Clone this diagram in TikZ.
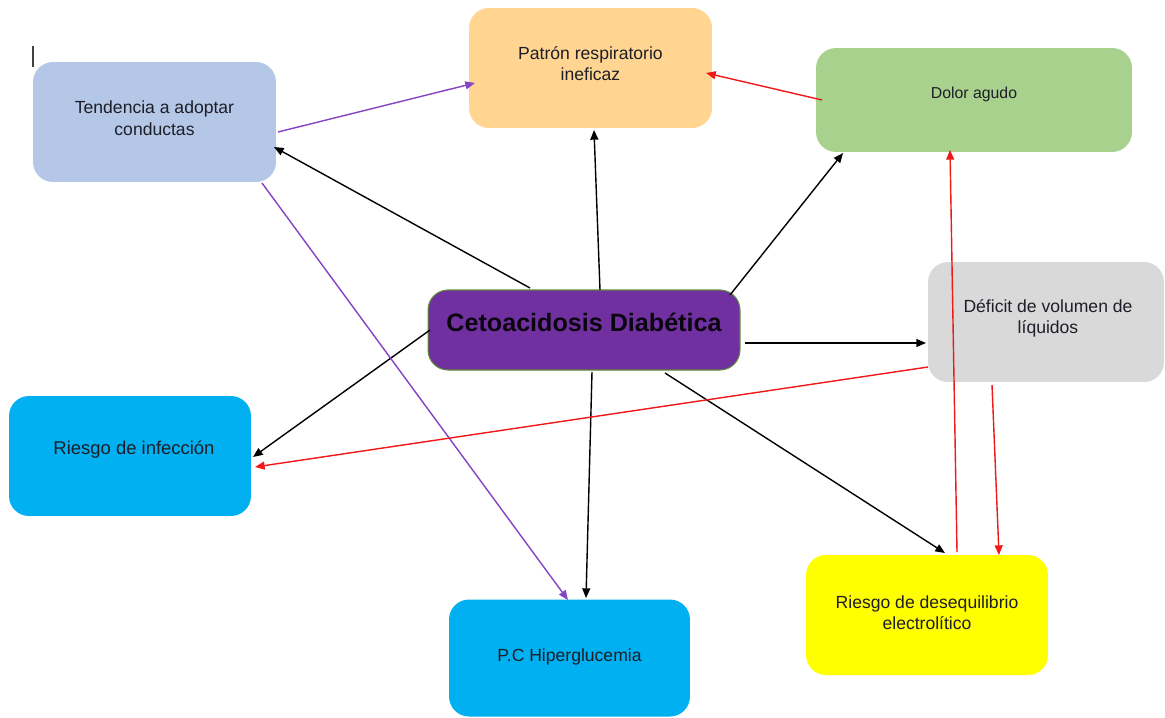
\documentclass[tikz,border=0pt]{standalone}
\usepackage{fontspec}
\setmainfont{Liberation Sans}
\usetikzlibrary{arrows.meta,calc}
\definecolor{tendc}{HTML}{B4C7E7}
\definecolor{patc}{HTML}{FFD591}
\definecolor{dolc}{HTML}{A9D18E}
\definecolor{defc}{HTML}{D9D9D9}
\definecolor{cetoc}{HTML}{7030A0}
\definecolor{cetob}{HTML}{5E8C3A}
\definecolor{bluec}{HTML}{00B0F0}
\definecolor{desc}{HTML}{FFFF00}
\definecolor{txtc}{HTML}{1E1E28}
\definecolor{purc}{HTML}{8445C4}
\definecolor{redc}{HTML}{F01818}
\begin{document}
\begin{tikzpicture}[x=0.02cm,y=-0.02cm,
  box/.style={rectangle, rounded corners=0.4cm, inner sep=0pt, draw=none},
  lbl/.style={font=\fontsize{10}{12.2}\selectfont, text=txtc, align=center, inner sep=0pt},
  blk/.style={draw=black, line width=0.8pt, -{Triangle[length=5.5pt,width=4.5pt]}},
  pur/.style={blk, draw=purc},
  rdl/.style={blk, draw=redc}]
\useasboundingbox (0,0) rectangle (1165,717);
\fill[white] (0,0) rectangle (1165,717);
% text cursor mark
\draw[line width=1.1pt, draw=black!75] (33,46) -- (33,67);
% boxes
\node[box, fill=tendc, minimum width=4.86cm, minimum height=2.4cm] (tend) at (154.5,122) {};
\node[box, fill=patc, minimum width=4.86cm, minimum height=2.4cm] (pat) at (590.5,68) {};
\node[box, fill=dolc, minimum width=6.32cm, minimum height=2.08cm] (dol) at (974,100) {};
\node[box, fill=defc, minimum width=4.72cm, minimum height=2.4cm] (def) at (1046,322) {};
\node[box, fill=cetoc, draw=cetob, line width=0.6pt, minimum width=6.24cm, minimum height=1.6cm] (ceto) at (584,330) {};
\node[box, fill=bluec, minimum width=4.84cm, minimum height=2.4cm] (inf) at (130,456) {};
\node[box, fill=bluec, minimum width=4.82cm, minimum height=2.34cm] (hip) at (569.5,658) {};
\node[box, fill=desc, minimum width=4.84cm, minimum height=2.4cm] (des) at (927,615) {};
% labels
\node[lbl] (tendT) at ([shift={(0,-4)}]tend.center) {Tendencia a adoptar\\conductas};
\node[lbl] (patT) at ([shift={(0,-4.5)}]pat.center) {Patrón respiratorio\\ineficaz};
\node[lbl, font=\fontsize{9}{11}\selectfont] (dolT) at ([shift={(0,-6)}]dol.center) {Dolor agudo};
\node[lbl] (defT) at ([shift={(2,-3.5)}]def.center) {Déficit de volumen de\\líquidos};
\node[lbl, font=\bfseries\fontsize{14.3}{16}\selectfont, text=black!90!cetoc] (cetoT) at ([shift={(0,-8)}]ceto.center) {Cetoacidosis Diabética};
\node[lbl, font=\fontsize{10.5}{12.5}\selectfont] (infT) at ([shift={(4,-6)}]inf.center) {Riesgo de infección};
\node[lbl] (hipT) at ([shift={(0,-1)}]hip.center) {P.C Hiperglucemia};
\node[lbl] (desT) at ([shift={(0,-2.5)}]des.center) {Riesgo de desequilibrio\\electrolítico};
% black connectors
\draw[blk] ([shift={(-54,-42)}]ceto.center) -- ([shift={(119.5,25)}]tend.center);
\draw[blk] ([shift={(16,-40)}]ceto.center) -- ([shift={(3.5,62)}]pat.center);
\draw[blk] ([shift={(146,-35)}]ceto.center) -- ([shift={(-131,53)}]dol.center);
\draw[blk] ([shift={(161,13)}]ceto.center) -- ([shift={(-120,21)}]def.center);
\draw[blk] ([shift={(-154,0)}]ceto.center) -- ([shift={(123,1)}]inf.center);
\draw[blk] ([shift={(8,42)}]ceto.center) -- ([shift={(16.5,-60)}]hip.center);
\draw[blk] ([shift={(81,43)}]ceto.center) -- ([shift={(18,-62)}]des.center);
% purple connectors
\draw[pur] ([shift={(123.5,10)}]tend.center) -- ([shift={(-115.5,15)}]pat.center);
\draw[pur] ([shift={(107.5,61)}]tend.center) -- ([shift={(-1.5,-58)}]hip.center);
% red connectors
\draw[rdl] ([shift={(-152,0)}]dol.center) -- ([shift={(115.5,5)}]pat.center);
\draw[rdl] ([shift={(-118,45)}]def.center) -- ([shift={(125,11)}]inf.center);
\draw[rdl] ([shift={(30,-63)}]des.center) -- ([shift={(-24,50)}]dol.center);
\draw[rdl] ([shift={(-54,63)}]def.center) -- ([shift={(72,-60)}]des.center);
\end{tikzpicture}
\end{document}
